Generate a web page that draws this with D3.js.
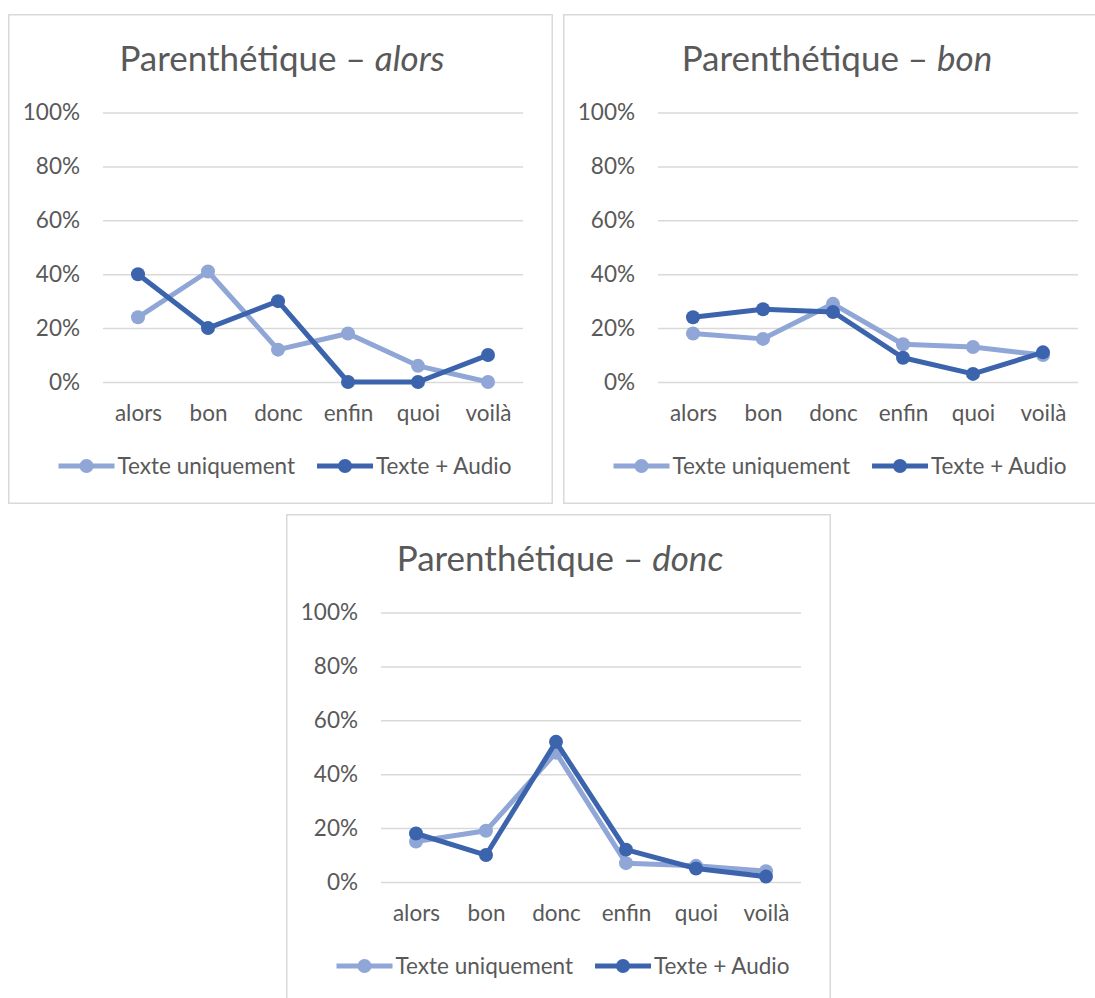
<!DOCTYPE html>
<html>
<head>
<meta charset="utf-8">
<script src="https://cdn.jsdelivr.net/npm/d3@7"></script>
<style>
  html, body { margin: 0; padding: 0; background: #fff; }
  svg { display: block; }
  text { font-family: Lato, "Open Sans", sans-serif; fill: #595959; }
</style>
</head>
<body>
<svg id="chart" width="1095" height="998"></svg>
<script>
// Categories on the x axis (the discourse markers)
const categories = ["alors", "bon", "donc", "enfin", "quoi", "voilà"];
// Y axis ticks (proportions)
const yTicks = [0, 0.2, 0.4, 0.6, 0.8, 1];
// Series names used in the legends
const seriesNames = ["Texte uniquement", "Texte + Audio"];
// Panel keywords (shown in italics in each title)
const panelWords = ["alors", "bon", "donc"];

// Percentages per panel
const alorsTexte = [24, 41, 12, 18, 6, 0];
const alorsAudio = [40, 20, 30, 0, 0, 10];
const bonTexte   = [18, 16, 29, 14, 13, 10];
const bonAudio   = [24, 27, 26, 9, 3, 11];
const doncTexte  = [15, 19, 48, 7, 6, 4];
const doncAudio  = [18, 10, 52, 12, 5, 2];

const colors = ["#8fa6d6", "#3c64ad"];

const panels = [
  { word: panelWords[0], series: [alorsTexte, alorsAudio], x: 8,   y: 14 },
  { word: panelWords[1], series: [bonTexte, bonAudio],     x: 563, y: 14 },
  { word: panelWords[2], series: [doncTexte, doncAudio],   x: 286, y: 514 }
];

const boxW = 545, boxH = 490;
const plot = { left: 95, right: 515, top: 98.5, bottom: 368 };
const labelFont = "Lato, 'Open Sans', sans-serif";

const svg = d3.select("#chart");

panels.forEach(p => {
  const g = svg.append("g").attr("transform", `translate(${p.x},${p.y})`);

  // chart frame
  g.append("rect")
    .attr("x", 0.75).attr("y", 0.75)
    .attr("width", boxW - 1.5).attr("height", boxH - 1.5)
    .attr("fill", "#fff")
    .attr("stroke", "#d9d9d9")
    .attr("stroke-width", 1.5);

  const x = d3.scalePoint()
    .domain(categories)
    .range([plot.left, plot.right])
    .padding(0.5);
  const y = d3.scaleLinear()
    .domain([0, 1])
    .range([plot.bottom, plot.top]);

  // title
  const title = g.append("text")
    .attr("x", boxW / 2 + 1.5)
    .attr("y", 56.5)
    .attr("text-anchor", "middle")
    .style("font-size", "35px");
  title.append("tspan").text("Parenthétique – ");
  title.append("tspan").style("font-style", "italic").text(p.word);

  // y axis with gridlines
  const yAxis = g.append("g")
    .attr("transform", `translate(${plot.left},0)`)
    .call(d3.axisLeft(y)
      .tickValues(yTicks)
      .tickSize(-(plot.right - plot.left))
      .tickPadding(23)
      .tickFormat(d3.format(".0%")));
  yAxis.select(".domain").remove();
  yAxis.selectAll(".tick line")
    .attr("stroke", "#d9d9d9")
    .attr("stroke-width", 1.5);
  yAxis.selectAll(".tick text")
    .attr("fill", "#595959")
    .style("font-size", "22.5px")
    .style("font-family", labelFont);

  // x axis labels
  const xAxis = g.append("g")
    .attr("transform", `translate(0,${plot.bottom})`)
    .call(d3.axisBottom(x).tickSize(0).tickPadding(23));
  xAxis.select(".domain").remove();
  xAxis.selectAll(".tick text")
    .attr("fill", "#595959")
    .style("font-size", "22.5px")
    .style("font-family", labelFont);

  // series lines and markers
  const line = d3.line()
    .x((d, i) => x(categories[i]))
    .y(d => y(d / 100));

  p.series.forEach((vals, si) => {
    const sg = g.append("g");
    sg.append("path")
      .datum(vals)
      .attr("d", line)
      .attr("fill", "none")
      .attr("stroke", colors[si])
      .attr("stroke-width", 5)
      .attr("stroke-linejoin", "round");
    sg.selectAll("circle")
      .data(vals)
      .join("circle")
      .attr("cx", (d, i) => x(categories[i]))
      .attr("cy", d => y(d / 100))
      .attr("r", 7)
      .attr("fill", colors[si]);
  });

  // legend
  const lg = g.append("g").attr("transform", "translate(0,452)");
  const items = [];
  seriesNames.forEach((name, si) => {
    const it = lg.append("g");
    it.append("line")
      .attr("x1", 0).attr("x2", 56)
      .attr("y1", 0).attr("y2", 0)
      .attr("stroke", colors[si])
      .attr("stroke-width", 5);
    it.append("circle")
      .attr("cx", 28).attr("cy", 0).attr("r", 7)
      .attr("fill", colors[si]);
    const t = it.append("text")
      .attr("x", 59).attr("y", 7.5)
      .style("font-size", "22.5px")
      .text(name);
    items.push({ g: it, w: 59 + t.node().getComputedTextLength() });
  });
  const gap = 22;
  const total = items.reduce((s, d) => s + d.w, 0) + gap * (items.length - 1);
  let cx = boxW / 2 + 4.5 - total / 2;
  items.forEach(d => {
    d.g.attr("transform", `translate(${cx},0)`);
    cx += d.w + gap;
  });
});
</script>
</body>
</html>
